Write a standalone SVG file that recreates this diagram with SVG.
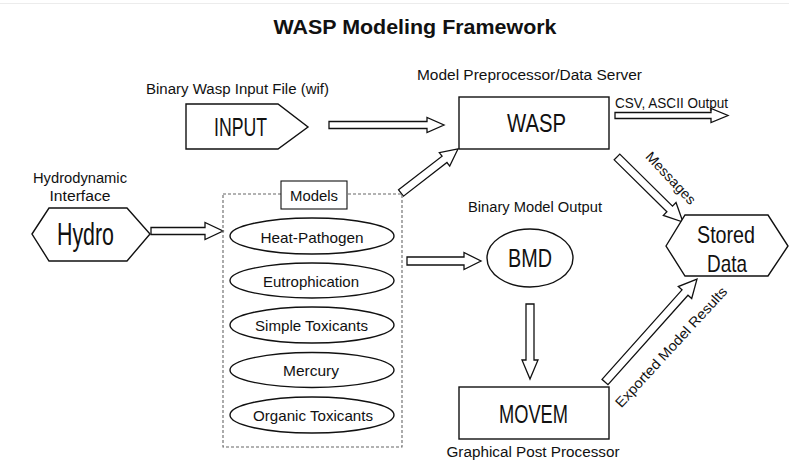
<svg xmlns="http://www.w3.org/2000/svg" width="789" height="462" viewBox="0 0 789 462">
<style>
text{font-family:"Liberation Sans",Arial,sans-serif;fill:#111;text-anchor:middle;dominant-baseline:central}
.shape{fill:#fff;stroke:#111;stroke-width:1.4}
.arrow{fill:#fff;stroke:#111;stroke-width:1.3;stroke-linejoin:miter}
.lbl{font-size:14px}
.big{font-size:26px}
.sd{font-size:24px}
.ell{font-size:15px}
.dash{fill:none;stroke:#666;stroke-width:1.1;stroke-dasharray:3,2}
</style>
<rect x="0" y="0" width="789" height="462" fill="#fff"/>
<line x1="0" y1="3.5" x2="789" y2="3.5" stroke="#ececec" stroke-width="1"/>
<text x="415" y="27" style="font-size:20px;font-weight:bold" textLength="283" lengthAdjust="spacingAndGlyphs">WASP Modeling Framework</text>

<g id="connectors">
  <path class="arrow" transform="translate(329,125)" d="M0,-3.5 H98 V-7.5 L115,0 L98,7.5 V3.5 H0 Z"/>
  <path class="arrow" transform="translate(151,231)" d="M0,-3.5 H54 V-8.5 L72,0 L54,8.5 V3.5 H0 Z"/>
  <path class="arrow" transform="translate(401,193) rotate(-37.7)" d="M0,-4 H55 V-8.5 L72,0 L55,8.5 V4 H0 Z"/>
  <path class="arrow" transform="translate(407,261)" d="M0,-4 H57 V-8.5 L74,0 L57,8.5 V4 H0 Z"/>
  <path class="arrow" transform="translate(615,115.5)" d="M0,-3 H96 V-7 L113,0 L96,7 V3 H0 Z"/>
  <path class="arrow" transform="translate(617,157) rotate(44.6)" d="M0,-4 H74 V-9 L92.6,0 L74,9 V4 H0 Z"/>
  <path class="arrow" transform="translate(530,304) rotate(90)" d="M0,-4 H56 V-8 L75,0 L56,8 V4 H0 Z"/>
  <path class="arrow" transform="translate(605,382) rotate(-48.2)" d="M0,-4 H120 V-9 L138,0 L120,9 V4 H0 Z"/>
</g>

<g id="input">
  <text class="lbl" x="237.5" y="89" textLength="183" lengthAdjust="spacingAndGlyphs">Binary Wasp Input File (wif)</text>
  <polygon class="shape" points="186,104 278,104 308,127 278,149 186,149"/>
  <text class="big" x="240.5" y="127" textLength="53" lengthAdjust="spacingAndGlyphs">INPUT</text>
</g>

<g id="wasp">
  <text class="lbl" x="529.5" y="75" textLength="225" lengthAdjust="spacingAndGlyphs">Model Preprocessor/Data Server</text>
  <rect class="shape" x="459" y="97" width="150" height="52"/>
  <text class="big" x="536.5" y="123" textLength="59" lengthAdjust="spacingAndGlyphs">WASP</text>
</g>

<g id="csv-label">
  <text class="lbl" x="671.5" y="103" textLength="113" lengthAdjust="spacingAndGlyphs">CSV, ASCII Output</text>
</g>

<g id="hydro">
  <text class="lbl" x="80" y="178" textLength="94" lengthAdjust="spacingAndGlyphs">Hydrodynamic</text>
  <text class="lbl" x="80" y="196" textLength="61" lengthAdjust="spacingAndGlyphs">Interface</text>
  <polygon class="shape" points="32,234 49,208 127,208 150,234 127,261 49,261"/>
  <text x="85.5" y="234" style="font-size:31px" textLength="57" lengthAdjust="spacingAndGlyphs">Hydro</text>
</g>

<g id="models">
  <rect class="dash" x="223" y="194" width="179" height="253"/>
  <rect class="shape" x="281" y="181" width="66" height="28" style="stroke-width:1.1"/>
  <text class="lbl" x="314" y="196" textLength="48" lengthAdjust="spacingAndGlyphs">Models</text>
  <g id="heat-pathogen">
    <ellipse class="shape" cx="312" cy="236" rx="82" ry="18"/>
    <text class="ell" x="312" y="237" textLength="103" lengthAdjust="spacingAndGlyphs">Heat-Pathogen</text>
  </g>
  <g id="eutrophication">
    <ellipse class="shape" cx="312" cy="280.5" rx="82" ry="17.5"/>
    <text class="ell" x="311" y="281" textLength="96" lengthAdjust="spacingAndGlyphs">Eutrophication</text>
  </g>
  <g id="simple-toxicants">
    <ellipse class="shape" cx="312" cy="325" rx="82" ry="18"/>
    <text class="ell" x="311.5" y="325.5" textLength="113" lengthAdjust="spacingAndGlyphs">Simple Toxicants</text>
  </g>
  <g id="mercury">
    <ellipse class="shape" cx="312" cy="370" rx="82" ry="17.5"/>
    <text class="ell" x="311" y="370" textLength="56" lengthAdjust="spacingAndGlyphs">Mercury</text>
  </g>
  <g id="organic-toxicants">
    <ellipse class="shape" cx="312" cy="415" rx="82" ry="18"/>
    <text class="ell" x="313" y="415" textLength="120" lengthAdjust="spacingAndGlyphs">Organic Toxicants</text>
  </g>
</g>

<g id="bmd">
  <text class="lbl" x="535" y="207" textLength="134" lengthAdjust="spacingAndGlyphs">Binary Model Output</text>
  <ellipse class="shape" cx="530" cy="258" rx="43" ry="29"/>
  <text class="big" x="530" y="258" textLength="44" lengthAdjust="spacingAndGlyphs">BMD</text>
</g>

<g id="movem">
  <rect class="shape" x="459" y="387" width="150" height="52"/>
  <text class="big" x="533.5" y="414" textLength="69" lengthAdjust="spacingAndGlyphs">MOVEM</text>
  <text class="lbl" x="533" y="452" textLength="173" lengthAdjust="spacingAndGlyphs">Graphical Post Processor</text>
</g>

<g id="stored-data">
  <polygon class="shape" points="666,246 685,215 768,215 788,246 768,276 685,276"/>
  <text class="sd" x="726" y="234" textLength="58" lengthAdjust="spacingAndGlyphs">Stored</text>
  <text class="sd" x="727" y="263" textLength="40" lengthAdjust="spacingAndGlyphs">Data</text>
</g>

<g id="edge-labels">
  <text class="lbl" transform="translate(671,178) rotate(47)" x="0" y="0" textLength="66" lengthAdjust="spacingAndGlyphs">Messages</text>
  <text class="lbl" transform="translate(671,347) rotate(-47.4)" x="0" y="0" textLength="158" lengthAdjust="spacingAndGlyphs">Exported Model Results</text>
</g>
</svg>
